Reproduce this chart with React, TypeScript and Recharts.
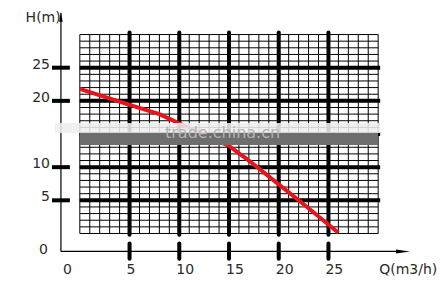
import React from 'react';
import {
  LineChart,
  Line,
  XAxis,
  YAxis,
  ReferenceLine,
  ReferenceDot,
} from 'recharts';

// pump curve: flow Q (m3/h) vs head H (m)
const flow = [0, 5, 8, 11, 15, 17, 20, 23, 26];
const head = [21.8, 19.4, 18, 15.9, 13.2, 11, 7.4, 3.8, 0.1];

const xTicks = [5, 10, 15, 20, 25];
const yTicks = [5, 10, 20, 25];
const xLabels = ['5', '10', '15', '20', '25'];
const yLabels = ['5', '10', '20', '25'];

const gridMax = 30;
const minorLines = Array.from({ length: gridMax + 1 }, (_, i) => i);

const data = flow.map((q, i) => ({ q, h: head[i] }));

// where the axes cross (slightly left/below of the grid origin)
const axisQ = -1.9;
const axisH = -2.7;

const font = { fontFamily: 'DejaVu Sans, sans-serif', fontSize: 14, fill: '#2a2a2a' };

const textShape = (label: string, dx = 0, dy = 0, anchor: 'start' | 'middle' | 'end' = 'start') =>
  (p: any) => (
    <text x={p.cx + dx} y={p.cy + dy} textAnchor={anchor} {...font}>
      {label}
    </text>
  );

const xArrow = (p: any) => (
  <polygon points={`${p.cx - 14},${p.cy - 2} ${p.cx},${p.cy} ${p.cx - 14},${p.cy + 2}`} fill="#000" />
);

const yArrow = (p: any) => (
  <polygon points={`${p.cx - 1.8},${p.cy + 9} ${p.cx},${p.cy} ${p.cx + 1.8},${p.cy + 9}`} fill="#000" />
);

export default function App() {
  return (
    <div style={{ position: 'absolute', left: 0, top: 0, width: 447, height: 285, background: '#fff' }}>
      <LineChart
        width={447}
        height={285}
        data={data}
        margin={{ top: 12, right: 37, left: 48, bottom: 25 }}
      >
        <XAxis type="number" dataKey="q" domain={[-3.2, 33.2]} hide allowDataOverflow />
        <YAxis type="number" domain={[-4, 33.4]} hide allowDataOverflow />

        {/* fine grid, 1 unit */}
        {minorLines.map((v) => (
          <ReferenceLine
            key={'vq' + v}
            segment={[{ x: v, y: 0 }, { x: v, y: gridMax }]}
            stroke="#000"
            strokeWidth={1}
          />
        ))}
        {minorLines.map((v) => (
          <ReferenceLine
            key={'hh' + v}
            segment={[{ x: 0, y: v }, { x: gridMax, y: v }]}
            stroke="#000"
            strokeWidth={1}
          />
        ))}

        {/* heavy lines every 5 */}
        {xTicks.map((v) => (
          <ReferenceLine
            key={'vx' + v}
            segment={[{ x: v, y: -0.2 }, { x: v, y: 30.3 }]}
            stroke="#000"
            strokeWidth={4}
            strokeLinecap="round"
          />
        ))}
        {[...yTicks, 15].map((v) => (
          <ReferenceLine
            key={'hy' + v}
            segment={[{ x: 0, y: v }, { x: 30.2, y: v }]}
            stroke="#000"
            strokeWidth={4}
          />
        ))}

        {/* axes */}
        <ReferenceLine segment={[{ x: axisQ, y: axisH }, { x: 31.9, y: axisH }]} stroke="#000" strokeWidth={1.2} ifOverflow="visible" />
        <ReferenceLine segment={[{ x: axisQ, y: axisH }, { x: axisQ, y: 33.3 }]} stroke="#000" strokeWidth={1.2} ifOverflow="visible" />
        <ReferenceDot x={33.2} y={axisH} r={0} shape={xArrow} ifOverflow="visible" />
        <ReferenceDot x={axisQ} y={33.3} r={0} shape={yArrow} ifOverflow="visible" />

        {/* axis tick marks */}
        {xTicks.map((v) => (
          <ReferenceLine
            key={'tx' + v}
            segment={[{ x: v, y: -1.5 }, { x: v, y: -3.8 }]}
            stroke="#000"
            strokeWidth={4}
            strokeLinecap="round"
            ifOverflow="visible"
          />
        ))}
        {yTicks.map((v) => (
          <ReferenceLine
            key={'ty' + v}
            segment={[{ x: -2.8, y: v }, { x: -1.0, y: v }]}
            stroke="#000"
            strokeWidth={4}
            ifOverflow="visible"
          />
        ))}

        <Line
          dataKey="h"
          type="linear"
          stroke="#e8141c"
          strokeWidth={4}
          dot={false}
          activeDot={false}
          isAnimationActive={false}
        />

        {/* labels */}
        {xTicks.map((v, i) => (
          <ReferenceDot key={'lx' + v} x={v} y={-5.3} r={0} ifOverflow="visible" shape={textShape(xLabels[i], -3, 5)} />
        ))}
        {yTicks.map((v, i) => (
          <ReferenceDot key={'ly' + v} x={-2.9} y={v} r={0} ifOverflow="visible" shape={textShape(yLabels[i], -1, 1, 'end')} />
        ))}
        <ReferenceDot x={-1.7} y={-5.3} r={0} ifOverflow="visible" shape={textShape('0', 0, 5)} />
        <ReferenceDot x={-3.2} y={-2.3} r={0} ifOverflow="visible" shape={textShape('0', 0, 5, 'end')} />
        <ReferenceDot x={30.1} y={-5.3} r={0} ifOverflow="visible" shape={textShape('Q(m3/h)', 0, 5)} />
        <ReferenceDot x={-5.45} y={32.6} r={0} ifOverflow="visible" shape={textShape('H(m)', 0, 5)} />
      </LineChart>

      {/* watermark band drawn over the chart */}
      <div style={{ position: 'absolute', left: 55, top: 123, width: 325, height: 10, background: 'rgba(238,238,238,0.88)' }} />
      <div style={{ position: 'absolute', left: 80, top: 133, width: 298, height: 12, background: '#6e6e6e' }} />
      <div
        style={{
          position: 'absolute',
          left: 165,
          top: 124,
          fontFamily: 'DejaVu Sans, sans-serif',
          fontSize: 16,
          lineHeight: '18px',
          color: '#b4b4b4',
        }}
      >
        trade.china.cn
      </div>
    </div>
  );
}
